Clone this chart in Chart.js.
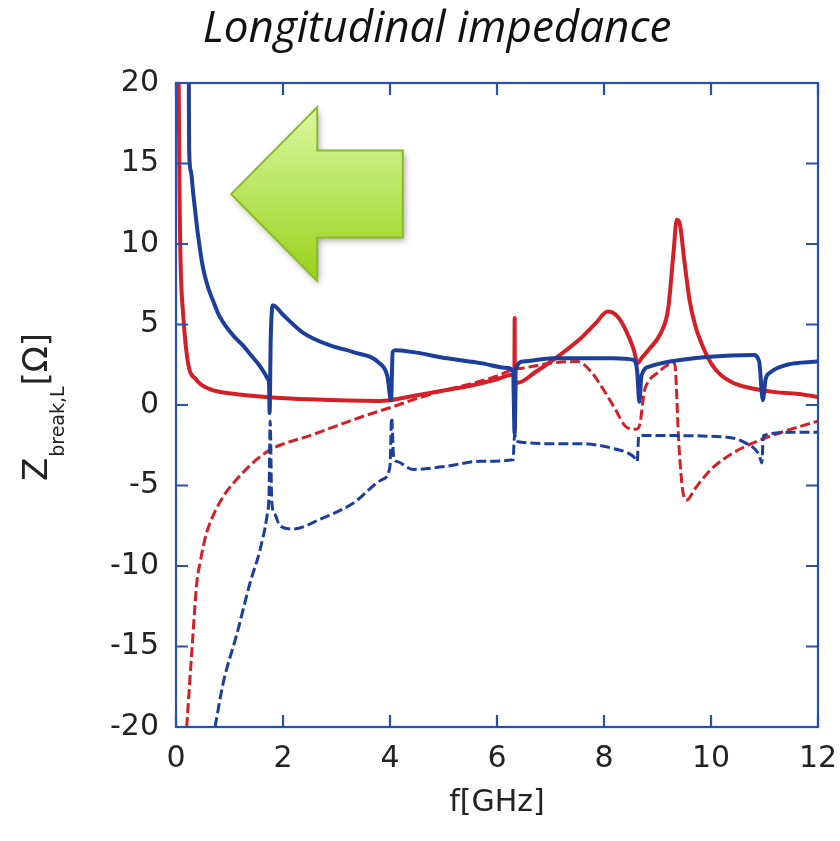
<!DOCTYPE html>
<html><head><meta charset="utf-8">
<script src="https://cdn.jsdelivr.net/npm/chart.js@4.4.0/dist/chart.umd.min.js"></script>
<style>html,body{margin:0;padding:0;background:#fff;}#wrap{width:840px;height:841px;}</style>
</head><body><div id="wrap"><canvas id="c" width="840" height="841"></canvas></div>
<script>
const titleText = 'Longitudinal impedance';
const xTitle = 'f[GHz]';
const yTitleMain = 'Z', yTitleSub = 'break,L', yTitleUnit = '[Ω]';
const xTicks = [0, 2, 4, 6, 8, 10, 12];
const yTicks = [-20, -15, -10, -5, 0, 5, 10, 15, 20];

const redReF = [0.05,0.07,0.09,0.13,0.22,0.37,0.62,1.07,1.68,2.5,3.8,4.0,4.5,5.0,5.5,6.0,6.3,6.325,6.33,6.335,6.345,6.4,6.7,7.05,7.55,7.85,8.07,8.25,8.4,8.55,8.63,8.7,8.85,9.05,9.2,9.3,9.36,9.42,9.5,9.6,9.7,9.85,10.0,10.17,10.4,10.67,11.2,11.6,12];
const redReZ = [20,12,8.3,5.8,2.7,1.6,1.0,0.7,0.5,0.35,0.25,0.3,0.6,0.9,1.2,1.6,1.9,2.0,5.4,-1.5,1.3,1.4,2.0,2.8,4.1,5.1,5.8,5.5,4.7,3.5,2.6,2.9,3.5,4.4,6.0,9.5,11.5,11.2,9.0,6.5,5.0,3.6,2.6,1.9,1.4,1.1,0.8,0.7,0.5];

const redImF = [0.2,0.3,0.39,0.45,0.55,0.69,0.9,1.14,1.4,1.7,1.94,2.5,3.0,3.5,4.06,4.5,5.0,5.5,6.0,6.3,6.5,7.0,7.5,7.75,8.0,8.2,8.43,8.6,8.67,8.75,8.82,9.0,9.2,9.32,9.4,9.48,9.55,9.7,10.0,10.4,10.9,11.5,12];
const redImZ = [-20,-15.1,-11,-9.8,-8.2,-6.9,-5.6,-4.6,-3.7,-2.9,-2.5,-1.9,-1.3,-0.7,-0.1,0.4,0.9,1.3,1.8,2.2,2.3,2.6,2.7,2.1,0.9,-0.2,-1.4,-1.5,-1.2,0.8,1.4,2.0,2.5,2.6,-2.5,-5.5,-5.9,-5.2,-4.0,-3.0,-2.2,-1.5,-1.0];

const blueReF = [0.24,0.245,0.28,0.32,0.36,0.41,0.5,0.6,0.69,0.8,0.93,1.1,1.25,1.4,1.55,1.65,1.72,1.74,1.75,1.77,1.81,2.0,2.37,2.88,3.3,3.8,3.95,4.02,4.05,4.1,4.4,5.07,5.7,6.2,6.3,6.33,6.35,6.49,7.05,8.17,8.55,8.62,8.66,8.7,8.86,9.23,9.98,10.8,10.9,10.97,11.02,11.1,11.42,12];
const blueReZ = [20,15.9,14.5,13.2,12.0,10.6,8.6,7.3,6.5,5.6,4.9,4.2,3.7,3.1,2.5,2.0,1.6,1.3,-0.5,4.0,6.2,5.6,4.5,3.7,3.3,2.6,1.8,0.3,3.3,3.4,3.3,2.9,2.6,2.3,2.1,-1.8,2.2,2.7,2.9,2.9,2.8,2.1,0.2,1.8,2.4,2.7,3.0,3.1,2.7,0.3,1.6,2.0,2.5,2.7];

const blueImF = [0.73,0.88,1.14,1.38,1.57,1.7,1.74,1.76,1.79,1.85,1.94,2.19,2.69,3.31,3.87,4.0,4.03,4.07,4.13,4.43,5.06,5.68,6.3,6.33,6.36,6.43,6.93,7.55,8.17,8.55,8.62,8.65,9.05,10.3,10.67,10.9,10.95,10.98,11.5,12];
const blueImZ = [-20,-17.3,-14.2,-11.1,-9,-6.9,-5.4,-1.0,-6.0,-6.8,-7.5,-7.7,-7.1,-6.1,-4.6,-3.8,-0.8,-3.3,-3.5,-4.0,-3.8,-3.5,-3.4,-1.8,-2.2,-2.3,-2.4,-2.4,-2.7,-3.2,-3.5,-1.9,-1.9,-2.0,-2.4,-3.1,-3.6,-1.9,-1.7,-1.7];

// arrow annotation shape, in data units (x: GHz, y: Ohm)
const arrowX = [1.03, 2.64, 2.64, 4.24, 4.24, 2.64, 2.64];
const arrowY = [13.1, 18.5, 15.8, 15.8, 10.4, 10.4, 7.7];

const RED = '#d51f26', BLUE = '#1c3f9e', FRAME = '#2a4fae';

function pts(xs, ys) { return xs.map((x, i) => ({x: x, y: ys[i]})); }

const framePlugin = {
  id: 'frame',
  afterDatasetsDraw(chart) {
    const {ctx, chartArea: a, scales: {x, y}} = chart;
    ctx.save();
    ctx.strokeStyle = FRAME;
    ctx.lineWidth = 2.2;
    ctx.strokeRect(a.left, a.top, a.right - a.left, a.bottom - a.top);
    ctx.beginPath();
    const L = 12;
    xTicks.forEach(v => {
      const px = x.getPixelForValue(v);
      ctx.moveTo(px, a.bottom); ctx.lineTo(px, a.bottom - L);
      ctx.moveTo(px, a.top); ctx.lineTo(px, a.top + L);
    });
    yTicks.forEach(v => {
      const py = y.getPixelForValue(v);
      ctx.moveTo(a.left, py); ctx.lineTo(a.left + L, py);
      ctx.moveTo(a.right, py); ctx.lineTo(a.right - L, py);
    });
    ctx.stroke();
    ctx.restore();

    // green arrow
    ctx.save();
    const P = arrowX.map((v, i) => [x.getPixelForValue(v), y.getPixelForValue(arrowY[i])]);
    const topY = Math.min(...P.map(p => p[1])), botY = Math.max(...P.map(p => p[1]));
    const g = ctx.createLinearGradient(0, topY, 0, botY);
    g.addColorStop(0, '#d9f8a2');
    g.addColorStop(1, '#99d119');
    ctx.beginPath();
    P.forEach((p, i) => i ? ctx.lineTo(p[0], p[1]) : ctx.moveTo(p[0], p[1]));
    ctx.closePath();
    ctx.shadowColor = 'rgba(0,0,0,0.35)';
    ctx.shadowBlur = 7; ctx.shadowOffsetX = 2; ctx.shadowOffsetY = 3;
    ctx.fillStyle = g;
    ctx.fill();
    ctx.shadowColor = 'transparent';
    ctx.strokeStyle = '#8bbb24';
    ctx.lineWidth = 2;
    ctx.lineJoin = 'miter';
    ctx.stroke();
    ctx.restore();

    // y axis title with subscript
    ctx.save();
    const mainF = '34px "DejaVu Sans"', subF = '19px "DejaVu Sans"';
    ctx.font = mainF; const w1 = ctx.measureText(yTitleMain).width; const w3 = ctx.measureText(yTitleUnit).width;
    ctx.font = subF; const w2 = ctx.measureText(yTitleSub).width;
    const total = w1 + w2 + w3 + 2;
    const cy = (a.top + a.bottom) / 2 + 2;
    ctx.translate(47, cy + total / 2);
    ctx.rotate(-Math.PI / 2);
    ctx.fillStyle = '#222';
    ctx.textBaseline = 'alphabetic';
    ctx.textAlign = 'left';
    ctx.font = mainF; ctx.fillText(yTitleMain, 0, 0);
    ctx.font = subF; ctx.fillText(yTitleSub, w1 + 1, 17);
    ctx.font = mainF; ctx.fillText(yTitleUnit, w1 + w2 + 2, 0);
    ctx.restore();
  }
};

const lineCommon = {showLine: true, pointRadius: 0, cubicInterpolationMode: 'monotone'};

new Chart(document.getElementById('c'), {
  type: 'scatter',
  data: {
    datasets: [
      Object.assign({label: 'blue Re', data: pts(blueReF, blueReZ), borderColor: BLUE, borderWidth: 4, order: 0}, lineCommon),
      Object.assign({label: 'blue Im', data: pts(blueImF, blueImZ), borderColor: BLUE, borderWidth: 3, borderDash: [10, 4], order: 1}, lineCommon),
      Object.assign({label: 'red Re', data: pts(redReF, redReZ), borderColor: RED, borderWidth: 4, order: 2}, lineCommon),
      Object.assign({label: 'red Im', data: pts(redImF, redImZ), borderColor: RED, borderWidth: 3, borderDash: [10, 4], order: 3}, lineCommon)
    ]
  },
  options: {
    responsive: false,
    animation: false,
    layout: {padding: {left: 56, right: 22, top: 0, bottom: 0}},
    plugins: {
      legend: {display: false},
      tooltip: {enabled: false},
      title: {display: true, text: titleText, color: '#111',
        font: {family: '"Open Sans"', size: 44, style: 'italic', weight: 'normal'},
        padding: {top: 3, bottom: 27.2}}
    },
    scales: {
      x: {
        type: 'linear', min: 0, max: 12,
        afterBuildTicks(s) { s.ticks = xTicks.map(v => ({value: v})); },
        afterFit(s) { s.height = 114; s.paddingLeft = 0; s.paddingRight = 0; },
        grid: {display: false, drawTicks: false},
        border: {display: false},
        ticks: {color: '#222', padding: 14, font: {family: '"DejaVu Sans"', size: 30}},
        title: {display: true, text: xTitle, color: '#222', font: {family: '"DejaVu Sans"', size: 30}, padding: {top: 0, bottom: 20}}
      },
      y: {
        type: 'linear', min: -20, max: 20,
        afterBuildTicks(s) { s.ticks = yTicks.map(v => ({value: v})); },
        afterFit(s) { s.width = 120; s.paddingTop = 0; s.paddingBottom = 0; },
        grid: {display: false, drawTicks: false},
        border: {display: false},
        ticks: {color: '#222', padding: 17, font: {family: '"DejaVu Sans"', size: 30}}
      }
    }
  },
  plugins: [framePlugin]
});
</script>
</body></html>
